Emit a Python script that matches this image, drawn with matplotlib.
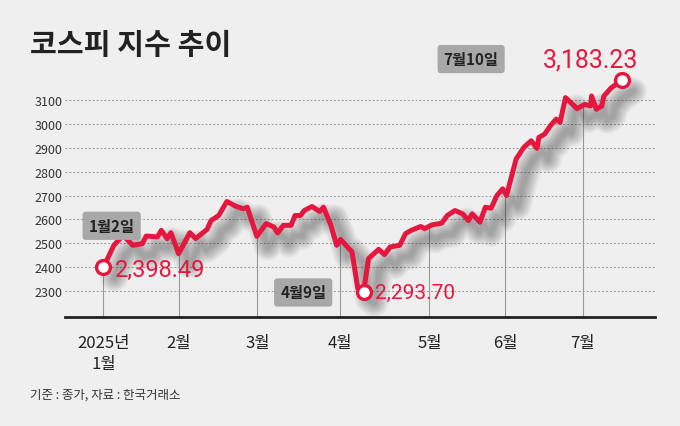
import matplotlib
matplotlib.use("Agg")
import matplotlib.pyplot as plt
import numpy as np

plt.rcParams['font.family'] = ['Noto Sans CJK KR', 'DejaVu Sans']

days = [2,5.8,9.2,12.7,16.2,17.6,21.7,23.1,25.2,26.6,29.4,33.5,35.6,39.8,41.2,44.0,47.0,50.2,53.0,54.4,
        57.9,61.3,64.1,65.5,67.6,70.4,71.8,73.8,75.2,78.0,80.8,82.2,84.9,87.0,88.4,92.6,94.7,96.8,98.6,
        102.3,104.4,106.5,110.0,112.1,114.2,117.6,119.0,121.8,125.3,127.3,130.1,132.9,135.0,136.4,139.2,
        141.2,143.3,145.4,147.5,148.9,152.4,155.2,157.9,160.0,160.7,162.8,164.9,167.0,168.4,170.4,174.6,
        177.4,179.5,179.9,181.6,183.6,184.4,187.1,191]
values = [2398.49,2491,2533,2491,2498,2530,2526,2554,2519,2544,2456,2544,2519,2558,2595,2616,2675,2655,2644,2651,
          2529,2582,2568,2543,2575,2575,2616,2616,2637,2654,2633,2651,2575,2491,2516,2463,2310,2293.70,2435,
          2474,2452,2484,2491,2540,2554,2570,2561,2577,2584,2616,2637,2623,2595,2623,2588,
          2651,2647,2700,2728,2700,2853,2902,2930,2898,2944,2958,2993,3021,3007,3111,3065,
          3083,3076,3118,3062,3076,3118,3153,3183.23]
month_days = [2,29.4,58.1,88.2,120.8,148.5,176.7]
month_labels = ['2025년\n1월','2월','3월','4월','5월','6월','7월']
yticks = [2300,2400,2500,2600,2700,2800,2900,3000,3100]

red = '#e5173f'
bg = '#efefef'
num_font = ['Roboto', 'DejaVu Sans']
fig = plt.figure(figsize=(6.8,4.27), dpi=100, facecolor=bg)
ax = fig.add_axes([0.0956,0.2553,0.8676,0.604])
ax.set_facecolor(bg)
ax.set_xlim(-12,203)
ax.set_ylim(2190,3273)
for s in ['top','right','left']:
    ax.spines[s].set_visible(False)
ax.spines['bottom'].set_linewidth(2)
ax.spines['bottom'].set_color('#222')
ax.set_xticks([])
ax.set_yticks(yticks)
ax.set_yticklabels([str(v) for v in yticks], fontsize=9, color='#333')
ax.tick_params(axis='y', length=0, pad=2)
for v in yticks:
    ax.axhline(v, color='#999', ls=(0,(2,2)), lw=0.7, zorder=1)

for d in month_days:
    yv = np.interp(d, days, values)
    ax.plot([d,d],[2190,yv], color='#999', lw=0.8, zorder=2)

dx = np.array(days)+4
dv = np.array(values)-45
for w in np.linspace(20, 3, 12):
    ax.plot(dx, dv, color='#222', lw=w, alpha=0.035, solid_capstyle='round', solid_joinstyle='round', zorder=2)
ax.plot(days, values, color=red, lw=3.6, zorder=3, solid_joinstyle='round')

pts = [(days[0],values[0]),(days[37],values[37]),(days[-1],values[-1])]
for x,y in pts:
    ax.plot(x,y,'o',ms=10,mfc='white',mec=red,mew=2.4,zorder=5)

ax.text(days[0]+4, values[0]-10, '2,398.49', color=red, fontsize=17, va='center', zorder=6, family=num_font)
ax.text(days[37]+4, values[37], '2,293.70', color=red, fontsize=15, va='center', zorder=6, family=num_font)
ax.text(days[-1]-29, 3273, '3,183.23', color=red, fontsize=18, va='center', ha='left', zorder=6, family=num_font)

def label(x,y,t):
    ax.text(x,y,t,fontsize=11,fontweight='bold',color='#222',ha='center',va='center',zorder=6,
            bbox=dict(boxstyle='round,pad=0.4,rounding_size=0.2',fc='#a8a8a8',ec='none'))
label(days[0]+3, 2573, '1월2일')
label(days[37]-22, 2293, '4월9일')
label(days[-1]-55, 3273, '7월10일')

for d,l in zip(month_days, month_labels):
    ax.text(d, 2120, l, fontsize=12, ha='center', va='top', color='#222', linespacing=1.3)

fig.text(0.044,0.895,'코스피 지수 추이', fontsize=21, fontweight='bold', color='#222', va='center')
fig.text(0.044,0.075,'기준 : 종가, 자료 : 한국거래소', fontsize=9, color='#333', va='center')
fig.savefig('out.png', dpi=100, facecolor=bg)
